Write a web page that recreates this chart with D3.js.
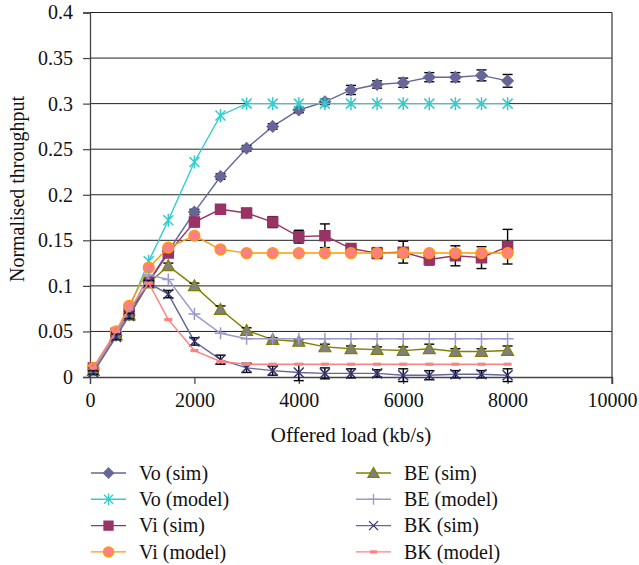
<!DOCTYPE html>
<html>
<head>
<meta charset="utf-8">
<script src="https://cdn.jsdelivr.net/npm/d3@7"></script>
<style>
  body { margin: 0; background: #fff; }
  svg text { font-family: "Liberation Serif", "Times New Roman", Tinos, Times, "DejaVu Serif", "Noto Serif", serif; fill: #111; }
</style>
</head>
<body>
<div id="chart"></div>
<script>
/* Normalised throughput vs offered load */
const width = 639, height = 565,
    margin = ({ top: 12.5, right: 27, bottom: 188, left: 90 });

const loads = [64, 500, 750, 1125, 1500, 2000, 2500, 3000, 3500, 4000, 4500, 5000, 5500, 6000, 6500, 7000, 7500, 8000];

const voSim    = [0.008, 0.046, 0.068, 0.105, 0.138, 0.181, 0.220, 0.251, 0.275, 0.293, 0.302, 0.315, 0.321, 0.323, 0.329, 0.329, 0.331, 0.325];
const voSimErr = [0.001, 0.002, 0.002, 0.003, 0.003, 0.003, 0.003, 0.003, 0.003, 0.003, 0.003, 0.005, 0.004, 0.005, 0.005, 0.005, 0.006, 0.007];
const voModel  = [0.008, 0.047, 0.075, 0.127, 0.172, 0.236, 0.287, 0.300, 0.300, 0.300, 0.300, 0.300, 0.300, 0.300, 0.300, 0.300, 0.300, 0.300];
const viSim    = [0.010, 0.048, 0.070, 0.104, 0.136, 0.170, 0.184, 0.180, 0.170, 0.154, 0.155, 0.141, 0.136, 0.137, 0.129, 0.133, 0.131, 0.143];
const viSimErr = [0.001, 0.002, 0.002, 0.003, 0.004, 0.005, 0.005, 0.005, 0.006, 0.007, 0.013, 0.003, 0.006, 0.012, 0.006, 0.011, 0.012, 0.019];
const viModel  = [0.010, 0.050, 0.078, 0.120, 0.142, 0.155, 0.140, 0.136, 0.136, 0.136, 0.136, 0.136, 0.136, 0.136, 0.136, 0.136, 0.136, 0.136];
const beSim    = [0.007, 0.046, 0.068, 0.103, 0.122, 0.100, 0.074, 0.051, 0.041, 0.039, 0.033, 0.031, 0.030, 0.029, 0.031, 0.028, 0.028, 0.029];
const beSimErr = [0.001, 0.002, 0.002, 0.003, 0.003, 0.003, 0.004, 0.003, 0.002, 0.002, 0.003, 0.003, 0.003, 0.004, 0.005, 0.003, 0.003, 0.005];
const beModel  = [0.008, 0.047, 0.070, 0.112, 0.107, 0.069, 0.048, 0.042, 0.042, 0.042, 0.042, 0.042, 0.042, 0.042, 0.042, 0.042, 0.042, 0.042];
const bkSim    = [0.005, 0.044, 0.067, 0.103, 0.091, 0.039, 0.019, 0.010, 0.007, 0.005, 0.004, 0.004, 0.004, 0.002, 0.002, 0.003, 0.003, 0.002];
const bkSimErr = [0.002, 0.003, 0.003, 0.003, 0.004, 0.004, 0.005, 0.005, 0.005, 0.009, 0.006, 0.005, 0.004, 0.007, 0.005, 0.004, 0.004, 0.007];
const bkModel  = [0.010, 0.050, 0.075, 0.103, 0.063, 0.029, 0.017, 0.014, 0.014, 0.014, 0.014, 0.014, 0.014, 0.014, 0.014, 0.014, 0.014, 0.014];

const xTicks = [0, 2000, 4000, 6000, 8000, 10000];
const yTicks = [0, 0.05, 0.1, 0.15, 0.2, 0.25, 0.3, 0.35, 0.4];

const series = [
  { name: "Vo (sim)",   values: voSim,   err: voSimErr, shape: "diamond",  line: "#666699", stroke: "#666699", fill: "#666699" },
  { name: "Vo (model)", values: voModel, err: null,     shape: "asterisk", line: "#33CCCC", stroke: "#33CCCC", fill: "none" },
  { name: "Vi (sim)",   values: viSim,   err: viSimErr, shape: "square",   line: "#993366", stroke: "#993366", fill: "#993366" },
  { name: "Vi (model)", values: viModel, err: null,     shape: "circle",   line: "#FF9900", stroke: "#FF9900", fill: "#FF8080" },
  { name: "BE (sim)",   values: beSim,   err: beSimErr, shape: "triangle", line: "#808000", stroke: "#808000", fill: "#808080" },
  { name: "BE (model)", values: beModel, err: null,     shape: "plus",     line: "#9999CC", stroke: "#9999CC", fill: "none" },
  { name: "BK (sim)",   values: bkSim,   err: bkSimErr, shape: "x",        line: "#666699", stroke: "#333377", fill: "none" },
  { name: "BK (model)", values: bkModel, err: null,     shape: "dash",     line: "#FF8080", stroke: "none",    fill: "#FF8080" }
];

const svg = d3.select("#chart")
    .append("svg")
    .attr("width", width)
    .attr("height", height)
    .attr("viewBox", [0, 0, width, height]);

let x = d3.scaleLinear()
    .domain([0, 10000])
    .range([margin.left, width - margin.right]);

let y = d3.scaleLinear()
    .domain([0, 0.4])
    .range([height - margin.bottom, margin.top]);

// marker shapes, r = half size
function shapePath(shape, r) {
  switch (shape) {
    case "diamond":  return `M0,${-r}L${r},0L0,${r}L${-r},0Z`;
    case "square":   return `M${-r},${-r}H${r}V${r}H${-r}Z`;
    case "circle":   return d3.symbol(d3.symbolCircle, Math.PI * r * r)();
    case "triangle": return `M0,${-r}L${r},${r * 0.8}L${-r},${r * 0.8}Z`;
    case "plus":     return `M${-r},0H${r}M0,${-r}V${r}`;
    case "x":        return `M${-r},${-r}L${r},${r}M${r},${-r}L${-r},${r}`;
    case "asterisk": return `M${-r},${-r}L${r},${r}M${r},${-r}L${-r},${r}M0,${-r * 1.3}V${r * 1.3}`;
    case "dash":     return `M${-r},-1.6H${r}V1.6H${-r}Z`;
  }
}

const markerSize = { diamond: 5.5, square: 5, circle: 5.5, triangle: 6, plus: 6, x: 5, asterisk: 5, dash: 4 };

// grid
svg.append("g")
  .selectAll("line")
  .data(yTicks.slice(1))
  .join("line")
    .attr("x1", x(0))
    .attr("x2", x(10000))
    .attr("y1", d => y(d))
    .attr("y2", d => y(d))
    .attr("stroke", "#222")
    .attr("stroke-width", 1);

svg.append("line")
    .attr("x1", x(10000)).attr("x2", x(10000))
    .attr("y1", y(0.4)).attr("y2", y(0) + 7)
    .attr("stroke", "#444")
    .attr("stroke-width", 1.3);

// axes
svg.append("g")
  .attr("transform", `translate(0,${y(0)})`)
  .call(d3.axisBottom(x).tickValues(xTicks).tickSize(7).tickPadding(9).tickFormat(d3.format("d")))
  .call(g => g.attr("font-family", null).attr("font-size", 20))
  .call(g => g.select(".domain").attr("stroke", "#444").attr("stroke-width", 1.3))
  .call(g => g.selectAll(".tick line").attr("stroke", "#444").attr("stroke-width", 1.2))
  .call(g => g.selectAll(".tick text").attr("fill", "#111"));

svg.append("g")
  .attr("transform", `translate(${x(0)},0)`)
  .call(d3.axisLeft(y).tickValues(yTicks).tickSize(7).tickPadding(10).tickFormat(d => d3.format("")(+d.toFixed(2))))
  .call(g => g.attr("font-family", null).attr("font-size", 20))
  .call(g => g.select(".domain").attr("stroke", "#444").attr("stroke-width", 1.3))
  .call(g => g.selectAll(".tick line").attr("stroke", "#444").attr("stroke-width", 1.2))
  .call(g => g.selectAll(".tick text").attr("fill", "#111"));

svg.append("text")
  .attr("class", "x-label")
  .attr("text-anchor", "middle")
  .attr("x", (x(0) + x(10000)) / 2)
  .attr("y", 442)
  .attr("font-size", 21)
  .text("Offered load (kb/s)");

svg.append("text")
  .attr("class", "y-label")
  .attr("text-anchor", "middle")
  .attr("transform", `translate(24,189) rotate(-90)`)
  .attr("font-size", 20)
  .text("Normalised throughput");

// series
let line = d3.line()
    .x((d, i) => x(loads[i]))
    .y(d => y(d));

for (let s of series) {
  let g = svg.append("g");

  g.append("path")
    .datum(s.values)
    .attr("d", line)
    .attr("fill", "none")
    .attr("stroke", s.line)
    .attr("stroke-width", 1.4);

  if (s.err) {
    let eb = g.append("g").attr("stroke", "#000").attr("stroke-width", 1.4);
    s.values.forEach((v, i) => {
      let cx = x(loads[i]), lo = y(v - s.err[i]), hi = y(v + s.err[i]);
      eb.append("line").attr("x1", cx).attr("x2", cx).attr("y1", lo).attr("y2", hi);
      eb.append("line").attr("x1", cx - 5).attr("x2", cx + 5).attr("y1", lo).attr("y2", lo);
      eb.append("line").attr("x1", cx - 5).attr("x2", cx + 5).attr("y1", hi).attr("y2", hi);
    });
  }

  g.selectAll(".pt")
    .data(s.values)
    .join("path")
      .attr("class", "pt")
      .attr("transform", (d, i) => `translate(${x(loads[i])},${y(d)})`)
      .attr("d", shapePath(s.shape, markerSize[s.shape]))
      .attr("fill", s.fill)
      .attr("stroke", s.stroke)
      .attr("stroke-width", s.shape === "circle" || s.shape === "triangle" ? 1.2 : 1.5);
}

// legend, two columns of four
const legend = svg.append("g");
series.forEach((s, i) => {
  let col = Math.floor(i / 4), row = i % 4;
  let lx = col === 0 ? 91 : 356, ly = 473 + row * 26.3;
  let item = legend.append("g").attr("transform", `translate(${lx},${ly})`);
  item.append("line")
    .attr("x1", 0).attr("x2", 35)
    .attr("stroke", s.line)
    .attr("stroke-width", 1.4);
  item.append("path")
    .attr("transform", "translate(17.5,0)")
    .attr("d", shapePath(s.shape, markerSize[s.shape] - 0.5))
    .attr("fill", s.fill)
    .attr("stroke", s.stroke)
    .attr("stroke-width", 1.3);
  item.append("text")
    .attr("x", 48)
    .attr("dy", "0.33em")
    .attr("font-size", 20)
    .text(s.name);
});
</script>
</body>
</html>
